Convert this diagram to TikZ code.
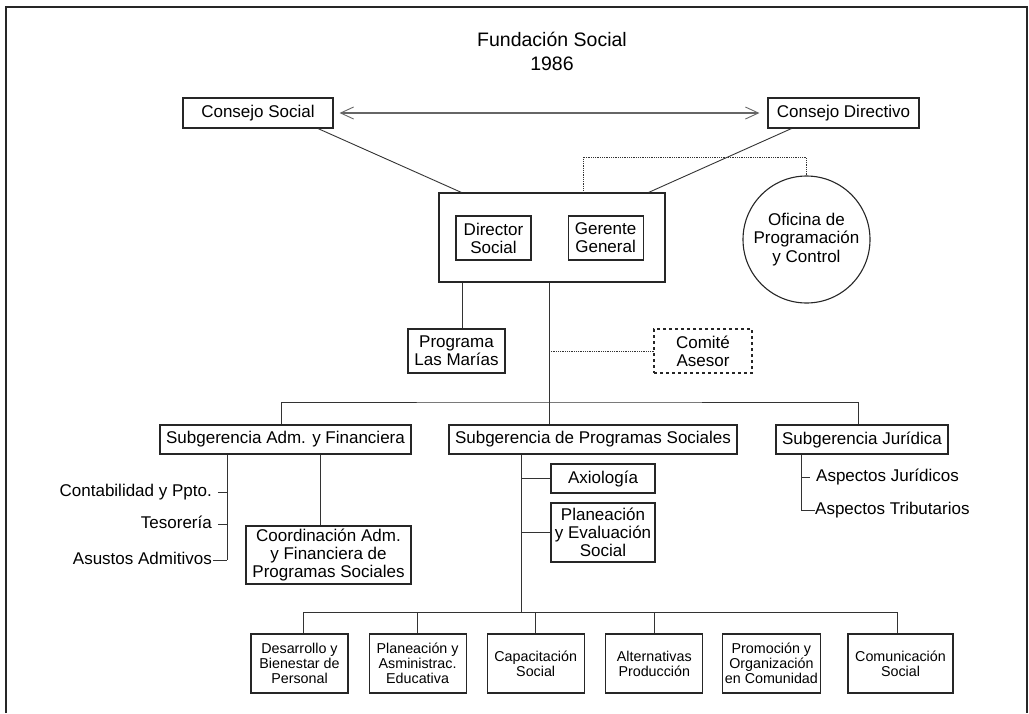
\documentclass[tikz,border=0pt]{standalone}
\usepackage{fontspec}
\setmainfont{Liberation Sans}
\usetikzlibrary{shapes, arrows.meta, calc, positioning}
\tikzstyle{block} = [rectangle, draw=black!85, line width=1.1pt, inner sep=0pt, text centered, align=center, font=\fontsize{17}{18}\selectfont, minimum height=29pt]
\tikzstyle{tall} = [block, minimum height=44pt]
\tikzstyle{small} = [block, minimum width=97pt, minimum height=59pt, font=\fontsize{14.3}{15}\selectfont]
\tikzstyle{office} = [circle, draw=black!85, line width=1.1pt, inner sep=0pt, minimum size=127pt, align=center, font=\fontsize{17}{18.3}\selectfont]
\tikzstyle{entry} = [inner sep=0pt, text height=12.5pt, text depth=3.5pt, font=\fontsize{17}{18}\selectfont]
\tikzstyle{line} = [draw, black!80, line width=0.9pt]
\tikzstyle{link} = [draw, black!80, line width=0.8pt, densely dotted]
\tikzstyle{both} = [draw, black!60, line width=1.2pt, {Straight Barb[length=13pt, width=12pt, line width=0.9pt]}-{Straight Barb[length=13pt, width=12pt, line width=0.9pt]}]

\begin{document}
\begin{tikzpicture}[x=1pt, y=-1pt]
        \useasboundingbox (0,0) rectangle (1029,713);
        \draw[black!85, line width=2.5pt] (6,713) -- (6,7) -- (1027,7) -- (1027,713);

        \node[align=center, inner sep=0pt, font=\fontsize{19.5}{24}\selectfont] (title) at (552,51) {Fundación Social\\1986};

        \node[block, minimum width=150pt, minimum height=30pt] (cs) at (258,113) {Consejo Social};

        \node[block, minimum width=151pt, minimum height=30pt] (cd) at (843.5,113) {Consejo Directivo};
        \path[both, shorten <=6pt, shorten >=8pt] (cs) -- (cd);

        \node[block, minimum width=226pt, minimum height=89pt] (main) at (552,237.5) {};
        \node[tall, minimum width=75pt] (ds) at (493.5,238) {Director\\Social};
        \node[tall, minimum width=75pt, right=36pt of ds] (gg) {Gerente\\General};
        \path[line] ($(cs.south)+(60,0)$) -- ($(main.north west)+(23,0)$);
        \path[line] ($(cd.south west)+(24,0)$) -- ($(main.north east)+(-17,0)$);

        \node[office] (opc) at (806.5,239.5) {Oficina de\\Programación\\y Control};
        \path[link] ($(main.north)+(31,0)$) -- ++(0,-35) -| (opc.north);

        \node[tall, minimum width=97pt] (prog) at (456.5,351) {Programa\\Las Marías};
        \coordinate (p1) at ($(prog.north)+(5.5,0)$);
        \path[line] (p1 |- main.south) -- (p1);

        \coordinate (t0) at (549,402);
        \path[line] (t0 |- main.south) -- (t0);

        \node[tall, dashed, minimum width=98pt] (com) at (703,351) {Comité\\Asesor};
        \path[link] (com.west -| t0) -- (com.west);

        \node[block, minimum width=251pt] (sa) at (285.5,439.5) {Subgerencia Adm. y Financiera};

        \node[block, minimum width=288pt] (sp) at (593,439.5) {Subgerencia de Programas Sociales};

        \node[block, minimum width=172pt] (sj) at (862,439.5) {Subgerencia Jurídica};
        \path[line] ($(sa.north)+(-4.5,0)$) |- (t0) -| ($(sj.north)+(-4,0)$);
        \path[line] (t0) -- (t0 |- sp.north);

        \coordinate (v1) at (227,560);
        \node[entry, anchor=east] (cont) at (212,492) {Contabilidad y Ppto.};
        \node[entry, anchor=east] (tes) at (212,524) {Tesorería};
        \node[entry, anchor=east] (asu) at (212,560) {Asustos Admitivos};
        \path[line] (v1 |- sa.south) -- (v1);
        \path[line] ($(cont.east)+(6,0)$) -- (cont.east -| v1);
        \path[line] ($(tes.east)+(6,0)$) -- (tes.east -| v1);
        \path[line] ($(asu.east)+(1,0)$) -- (v1);

        \node[block, minimum width=165pt, minimum height=58pt] (coord) at (328.5,555) {Coordinación Adm.\\y Financiera de\\Programas Sociales};
        \coordinate (c1) at (320,526);
        \path[line] (c1 |- sa.south) -- (c1 |- coord.north);

        \coordinate (v2) at (801,510);
        \node[entry, anchor=west] (asj) at (816,477) {Aspectos Jurídicos};
        \node[entry, anchor=west] (ast) at (815,510) {Aspectos Tributarios};
        \path[line] (v2 |- sj.south) -- (v2) -- (ast.west);
        \path[line] (asj.west -| v2) -- ($(asj.west)+(-6,0)$);

        \coordinate (v3) at (521,612.7);
        \path[line] (v3 |- sp.south) -- (v3);

        \node[block, minimum width=104pt] (axio) at (603,478.5) {Axiología};
        \path[line] (axio.west -| v3) -- (axio.west);

        \node[block, minimum width=104pt, minimum height=59pt] (plan) at (603,532.5) {Planeación\\y Evaluación\\Social};
        \path[line] (plan.west -| v3) -- (plan.west);

        \node[small] (b1) at (299.5,663.5) {Desarrollo y\\Bienestar de\\Personal};
        \node[small, right=20pt of b1] (b2) {Planeación y\\Asministrac.\\Educativa};
        \node[small, right=20pt of b2] (b3) {Capacitación\\Social};
        \node[small, right=20.5pt of b3] (b4) {Alternativas\\Producción};
        \node[small, minimum width=98pt, right=18.5pt of b4] (b5) {Promoción y\\Organización\\en Comunidad};
        \node[small, minimum width=105pt, right=26.5pt of b5] (b6) {Comunicación\\Social};
        \path[line] ($(b1.north)+(3.5,0)$) |- (v3) -| ($(b6.north)+(-2.7,0)$);
        \path[line] (b2.north) -- (b2.north |- v3);
        \path[line] (b3.north) -- (b3.north |- v3);
        \path[line] (b4.north) -- (b4.north |- v3);
        \path[line] ($(b5.north)+(3.5,0)$) -- ($(b5.north)+(3.5,0)$ |- v3);
    \end{tikzpicture}
\end{document}
